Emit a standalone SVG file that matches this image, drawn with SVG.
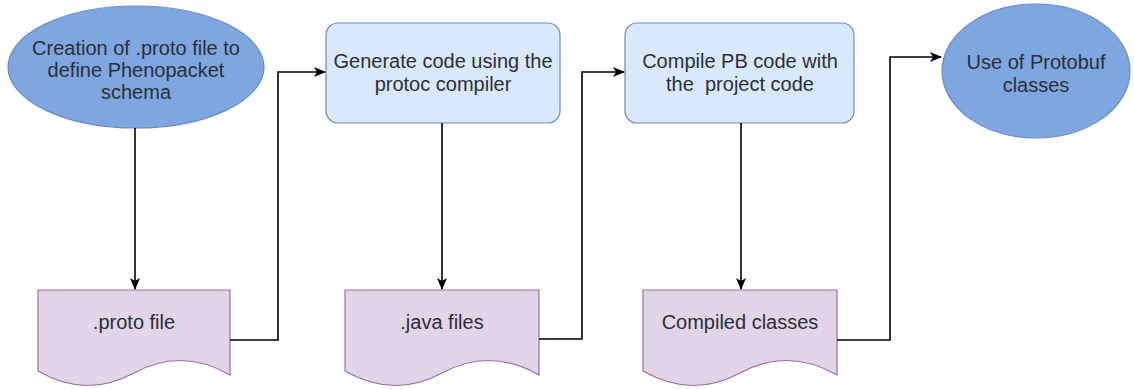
<svg xmlns="http://www.w3.org/2000/svg" width="1134" height="389" viewBox="0 0 1134 389">
<style>
.ell{fill:#7ea6e0;stroke:#6c8ebf;stroke-width:1.2}
.box{fill:#dae8fc;stroke:#6c8ebf;stroke-width:1.2}
.doc{fill:#e1d5e7;stroke:#9673a6;stroke-width:1.2}
text{font-family:"Liberation Sans",Arial,sans-serif;font-size:20px;fill:#2b2f38;text-anchor:middle}
.edge{fill:none;stroke:#000;stroke-width:1.6}
</style>
<defs>
<marker id="arr" markerWidth="12" markerHeight="10" refX="11" refY="5" orient="auto" markerUnits="userSpaceOnUse">
<path d="M0,0 L12,5 L0,10 L3,5 Z" fill="#000"/>
</marker>
</defs>
<g id="node-creation">
<ellipse class="ell" cx="136" cy="67" rx="128" ry="61"/>
<text x="136" y="55">Creation of .proto file to</text>
<text x="136" y="77">define Phenopacket</text>
<text x="136" y="99">schema</text>
</g>
<g id="node-generate">
<rect class="box" x="326" y="23" width="234" height="100" rx="12"/>
<text x="443" y="68">Generate code using the</text>
<text x="443" y="91">protoc compiler</text>
</g>
<g id="node-compile">
<rect class="box" x="625" y="23" width="229" height="100" rx="12"/>
<text x="740" y="68">Compile PB code with</text>
<text x="740" y="91" xml:space="preserve">the  project code</text>
</g>
<g id="node-use">
<ellipse class="ell" cx="1036" cy="71" rx="94" ry="67"/>
<text x="1036" y="69">Use of Protobuf</text>
<text x="1036" y="92">classes</text>
</g>
<g id="node-proto-file">
<path class="doc" d="M38,290 H230 V375 Q182,347 134,373 Q86,399 38,371 Z"/>
<text x="134" y="329">.proto file</text>
</g>
<g id="node-java-files">
<path class="doc" d="M345,290 H539 V375 Q490,347 442,373 Q394,399 345,371 Z"/>
<text x="442" y="329">.java files</text>
</g>
<g id="node-compiled-classes">
<path class="doc" d="M643,290 H837 V375 Q788,347 740,373 Q692,399 643,371 Z"/>
<text x="740" y="329">Compiled classes</text>
</g>
<g id="connectors">
<path class="edge" d="M135,128 V289" marker-end="url(#arr)"/>
<path class="edge" d="M442,123 V289" marker-end="url(#arr)"/>
<path class="edge" d="M741,123 V289" marker-end="url(#arr)"/>
<path class="edge" d="M230,340 H278 V72 H325" marker-end="url(#arr)"/>
<path class="edge" d="M539,339 H582 V72 H624" marker-end="url(#arr)"/>
<path class="edge" d="M837,340 H890 V57 H941" marker-end="url(#arr)"/>
</g>
</svg>
